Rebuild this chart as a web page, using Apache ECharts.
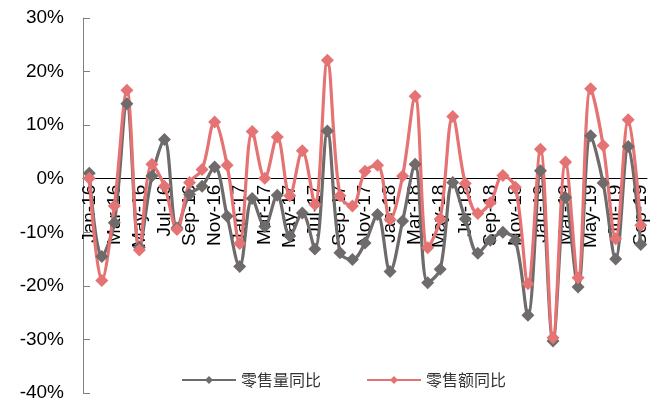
<!DOCTYPE html>
<html>
<head>
<meta charset="utf-8">
<script src="https://cdn.jsdelivr.net/npm/echarts@6/dist/echarts.min.js"></script>
<style>
  html, body { margin: 0; padding: 0; background: #fff; }
  #chart { width: 662px; height: 405px; }
</style>
</head>
<body>
<div id="chart"></div>
<script>
// Monthly retail year-on-year growth, Jan-16 .. Sep-19 (%)
const months = [
  'Jan-16','Feb-16','Mar-16','Apr-16','May-16','Jun-16','Jul-16','Aug-16','Sep-16','Oct-16','Nov-16','Dec-16',
  'Jan-17','Feb-17','Mar-17','Apr-17','May-17','Jun-17','Jul-17','Aug-17','Sep-17','Oct-17','Nov-17','Dec-17',
  'Jan-18','Feb-18','Mar-18','Apr-18','May-18','Jun-18','Jul-18','Aug-18','Sep-18','Oct-18','Nov-18','Dec-18',
  'Jan-19','Feb-19','Mar-19','Apr-19','May-19','Jun-19','Jul-19','Aug-19','Sep-19'
];

// 零售量同比 (volume)
const volumeYoY = [
  1.0, -14.5, -8.2, 14.0, -12.8, 0.5, 7.3, -9.2, -2.9, -1.4, 2.2, -7.0,
  -16.4, -3.7, -8.9, -3.1, -10.7, -6.4, -13.1, 8.9, -13.8, -15.1, -12.0, -6.7,
  -17.3, -7.9, 2.7, -19.4, -16.9, -0.7, -7.5, -13.9, -11.5, -10.0, -11.5, -25.5,
  1.5, -30.3, -3.5, -20.2, 8.0, -0.8, -15.0, 6.0, -12.3
];

// 零售额同比 (value)
const valueYoY = [
  0.1, -19.0, -5.1, 16.5, -13.3, 2.7, -1.4, -9.5, -0.7, 1.7, 10.6, 2.5,
  -12.1, 8.8, 0.1, 7.8, -3.2, 5.2, -4.8, 22.1, -3.2, -5.1, 1.4, 2.5,
  -7.6, 0.5, 15.4, -12.9, -7.5, 11.6, -0.9, -6.5, -4.5, 0.6, -1.6, -19.6,
  5.5, -29.7, 3.1, -18.5, 16.8, 6.2, -11.2, 11.0, -8.7
];

const seriesNames = ['零售量同比', '零售额同比'];
const yTicks = { min: -40, max: 30, step: 10 };

const W = 662, H = 405;
const grid = { left: 83, right: 15, top: 18, bottom: 12 };
// lift the category axis (line, ticks, labels) up to the 0% level
const plotH = H - grid.top - grid.bottom;
const zeroOffset = -plotH * (0 - yTicks.min) / (yTicks.max - yTicks.min);

const chart = echarts.init(document.getElementById('chart'), null, { renderer: 'canvas' });

const lineSeries = (name, data, color) => ({
  name: name,
  type: 'line',
  data: data,
  smooth: 0.35,
  symbol: 'diamond',
  symbolSize: 13,
  showAllSymbol: true,
  lineStyle: { color: color, width: 3.2 },
  itemStyle: { color: color },
  emphasis: { disabled: true }
});

chart.setOption({
  animation: false,
  grid: Object.assign({ containLabel: false, outerBoundsMode: 'none' }, grid),
  legend: {
    left: 181,
    top: 372,
    padding: 0,
    itemWidth: 54,
    itemHeight: 10,
    itemGap: 45,
    textStyle: { fontFamily: '"Noto Sans CJK SC", sans-serif', fontSize: 16, color: '#333' },
    data: seriesNames
  },
  xAxis: {
    type: 'category',
    data: months,
    boundaryGap: true,
    position: 'bottom',
    offset: zeroOffset,
    axisLine: { onZero: false, lineStyle: { color: '#000', width: 1 } },
    axisTick: { inside: true, length: 6, interval: 1, lineStyle: { color: '#000' } },
    axisLabel: {
      interval: 1,
      rotate: 90,
      margin: 6,
      color: '#000',
      fontFamily: '"Liberation Sans", Arial, sans-serif',
      fontSize: 19
    },
    splitLine: { show: false }
  },
  yAxis: {
    type: 'value',
    min: yTicks.min,
    max: yTicks.max,
    interval: yTicks.step,
    axisLine: { show: true, lineStyle: { color: '#808080', width: 1 } },
    axisTick: { show: true, inside: true, length: 7, lineStyle: { color: '#808080' } },
    axisLabel: {
      formatter: '{value}%',
      margin: 19,
      color: '#000',
      fontFamily: '"Liberation Sans", Arial, sans-serif',
      fontSize: 19
    },
    splitLine: { show: false }
  },
  series: [
    lineSeries(seriesNames[0], volumeYoY, '#6f6b6b'),
    lineSeries(seriesNames[1], valueYoY, '#e57373')
  ]
});
</script>
</body>
</html>
